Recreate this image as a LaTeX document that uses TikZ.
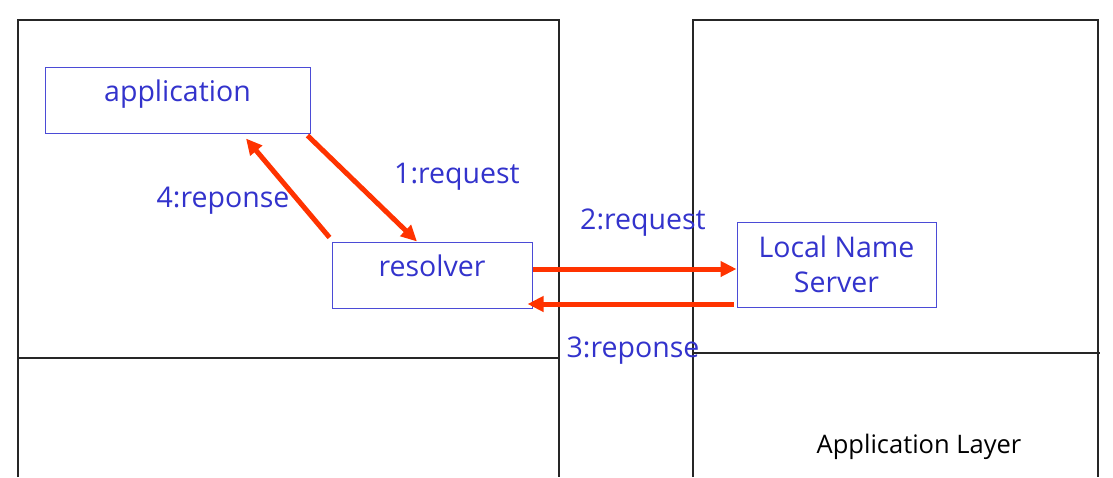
\documentclass[tikz,border=0pt]{standalone}
\usepackage{fontspec}
\setmainfont{Open Sans}
\usetikzlibrary{arrows.meta,calc}
\definecolor{txtblue}{HTML}{3333CC}
\definecolor{boxblue}{HTML}{4B4BD6}
\definecolor{flowred}{HTML}{FF3300}
\begin{document}
\begin{tikzpicture}[x=1pt,y=-1pt,
  panel/.style={draw=black!85,line width=1.3pt},
  box/.style={draw=boxblue,line width=1pt,inner sep=0pt,text=txtblue,
    font=\fontsize{28.5}{35}\selectfont,align=center},
  lbl/.style={text=txtblue,font=\fontsize{28.5}{35}\selectfont,anchor=base,inner sep=0pt},
  flow/.style={draw=flowred,line width=5pt,
    -{Triangle[length=16pt,width=15pt]},shorten >=0pt}
]
\useasboundingbox (0,0) rectangle (1113,477);
% panels
\draw[panel] (18,477) -- (18,20) -- (559,20) -- (559,477);
\draw[panel] (18,358) -- (559,358);
\draw[panel] (693,477) -- (693,20) -- (1098,20) -- (1098,477);
\draw[panel] (693,353) -- (1100,353);
% boxes
\node[box,minimum width=265pt,minimum height=66pt,text height=20pt,text depth=18pt] (app) at (177.5,100) {application};
\node[box,minimum width=200pt,minimum height=66pt,text height=20pt,text depth=18pt] (res) at (432,275) {resolver};
\node[box,minimum width=199pt,minimum height=85pt] (lns) at (836.5,264.5) {Local Name\\Server};
% labels
\node[lbl] (l1) at (457,183) {1:request};
\node[lbl] (l4) at (223,207) {4:reponse};
\node[lbl] (l2) at (643,229) {2:request};
\node[lbl] (l3) at (633,357) {3:reponse};
\node[anchor=base,inner sep=0pt,font=\fontsize{25.5}{30}\selectfont] (layer) at (919,453) {Application Layer};
% connector end points
\coordinate (a2s) at ($(res.east)+(0,-6)$);
\coordinate (a3e) at ($(res.east)+(-5,29)$);
% connectors
\draw[flow] ($(app.south east)+(-3,2)$) -- ($(res.north)+(-15,0)$);
\draw[flow] ($(res.north west)+(-2,-4)$) -- ($(app.south)+(68.5,5)$);
\draw[flow] (a2s) -- (a2s -| lns.west);
\draw[flow] ($(a3e -| lns.west)+(-3,0)$) -- (a3e);
\end{tikzpicture}
\end{document}
